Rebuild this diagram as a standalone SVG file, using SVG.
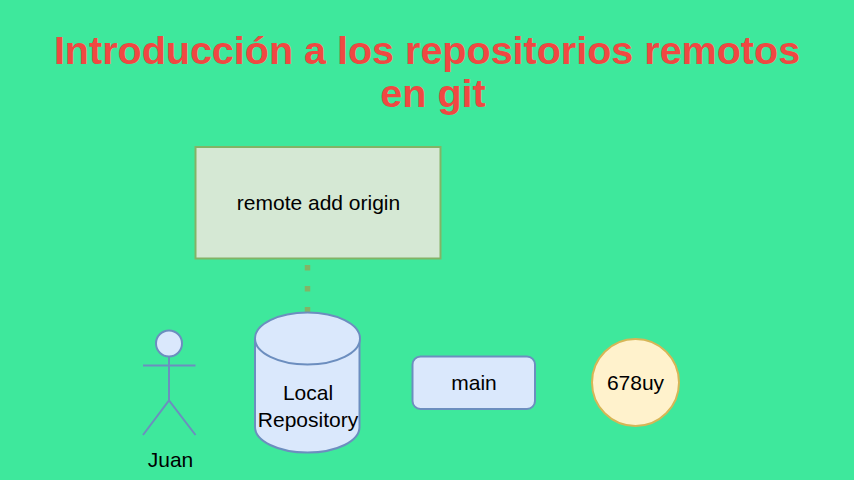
<svg xmlns="http://www.w3.org/2000/svg" width="854" height="480" viewBox="0 0 854 480">
<style>
text{font-family:"Liberation Sans",Arial,sans-serif;fill:#000;text-anchor:middle;font-size:21px}
.t{font-size:39.500px;font-weight:bold;fill:#f04842}
.b{fill:#dae8fc;stroke:#6c8ebf;stroke-width:2}
</style>
<rect width="854" height="480" fill="#3ee89c"/>
<g id="title"><text class="t" x="427" y="64">Introducción a los repositorios remotos</text><text class="t" x="433" y="107">en git</text></g>
<g id="connectors"><path d="M307.500 258V312" fill="none" stroke="#82b366" stroke-width="5.500" stroke-dasharray="5.500 15.500" stroke-dashoffset="-7"/></g>
<g id="remote"><rect x="195.500" y="147" width="245" height="111.500" fill="#d5e8d4" stroke="#82b366" stroke-width="2"/><text x="318.500" y="210">remote add origin</text></g>
<g id="juan"><circle class="b" cx="169" cy="343.500" r="13"/><path class="b" d="M169 356.500V400.500M143 365.500H195.500M143 435L169 400.500L195.500 435" style="fill:none"/><text x="170.500" y="467">Juan</text></g>
<g id="repo"><path class="b" d="M255 338.500V427C255 441 278 452.500 307.500 452.500S359.500 441 359.500 427V338.500"/><ellipse class="b" cx="307.500" cy="338.500" rx="52.500" ry="26"/><text x="308" y="400">Local</text><text x="308" y="427">Repository</text></g>
<g id="main"><rect class="b" x="412.500" y="356.500" width="122.500" height="52.500" rx="8"/><text x="474" y="390">main</text></g>
<g id="commit"><circle cx="635.500" cy="382.500" r="43.500" fill="#fff2cc" stroke="#d6b656" stroke-width="2"/><text x="635.500" y="390">678uy</text></g>
</svg>
